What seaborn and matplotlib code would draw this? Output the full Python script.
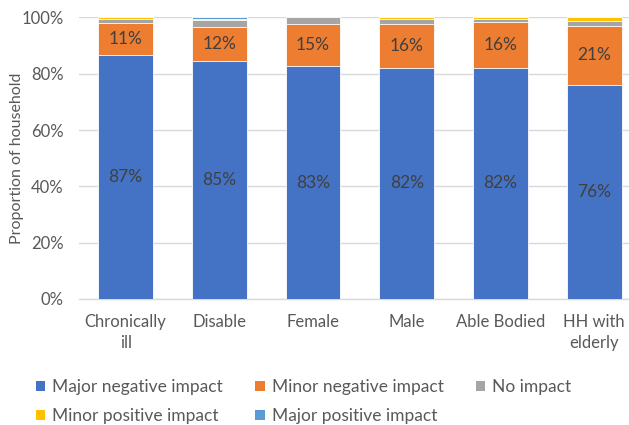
import matplotlib
matplotlib.use("Agg")
import matplotlib.pyplot as plt
import seaborn as sns
import pandas as pd
import numpy as np
from matplotlib.patches import Patch

categories = ["Chronically\nill", "Disable", "Female", "Male", "Able Bodied", "HH with\nelderly"]
major_negative = [86.6, 84.6, 82.6, 82.1, 82.2, 76.1]
minor_negative = [11.4, 12.1, 15.2, 15.6, 16.0, 20.9]
no_impact = [1.3, 2.2, 2.2, 1.7, 1.3, 1.8]
minor_positive = [0.7, 0.5, 0.0, 0.6, 0.5, 1.2]
major_positive = [0.0, 0.6, 0.0, 0.0, 0.0, 0.0]

series_names = ["Major negative impact", "Minor negative impact", "No impact",
                "Minor positive impact", "Major positive impact"]
series_values = [major_negative, minor_negative, no_impact, minor_positive, major_positive]
colors = ["#4472C4", "#ED7D31", "#A5A5A5", "#FFC000", "#5B9BD5"]

sns.set_theme(style="white")
plt.rcParams["font.family"] = ["Lato", "DejaVu Sans"]
text_color = "#595959"

fig = plt.figure(figsize=(6.29, 4.25), dpi=100)
ax = fig.add_axes([0.1253, 0.2965, 0.8938, 0.6626])

data = np.array(series_values)
cum = np.cumsum(data, axis=0)

# draw cumulative totals, tallest first so lower segments overlay
for i in range(len(series_names) - 1, -1, -1):
    df = pd.DataFrame({"cat": categories, "val": cum[i]})
    sns.barplot(data=df, x="cat", y="val", color=colors[i], width=0.584,
                saturation=1, edgecolor="white", linewidth=0.6, ax=ax, zorder=3)

# data labels for the two main series
for j in range(len(categories)):
    ax.text(j, major_negative[j] / 2, f"{major_negative[j]:.0f}%", ha="center", va="center",
            fontsize=12.5, color="#404040", zorder=5)
    ax.text(j, major_negative[j] + minor_negative[j] / 2, f"{minor_negative[j]:.0f}%",
            ha="center", va="center", fontsize=12.5, color="#404040", zorder=5)

ax.set_xlim(-0.5, 5.5)
ax.set_ylim(0, 100)
ax.set_yticks(range(0, 101, 20))
ax.set_yticklabels([f"{v}%" for v in range(0, 101, 20)])
ax.yaxis.grid(True, color="#D9D9D9", linewidth=1, zorder=0)
ax.set_axisbelow(True)
for s in ["top", "right", "left"]:
    ax.spines[s].set_visible(False)
ax.spines["bottom"].set_color("#D9D9D9")
ax.spines["bottom"].set_linewidth(1)
ax.tick_params(axis="both", length=0, labelsize=12, colors=text_color)
ax.tick_params(axis="y", pad=11)
ax.tick_params(axis="x", pad=11)
for lbl in ax.get_xticklabels():
    lbl.set_linespacing(1.35)
ax.set_xlabel("")
ax.set_ylabel("Proportion of household", fontsize=11.5, color=text_color)
ax.yaxis.set_label_coords(-0.098, 0.5)

# legend in row-major order (matplotlib fills columns first)
order = [0, 3, 1, 4, 2]
handles = [Patch(facecolor=colors[k], edgecolor="none") for k in order]
labels = [series_names[k] for k in order]
fig.legend(handles, labels, ncol=3, loc="upper left", bbox_to_anchor=(0.032, 0.145),
           frameon=False, fontsize=12.5, labelcolor=text_color, handlelength=0.55,
           handleheight=0.55, handletextpad=0.4, columnspacing=1.85, labelspacing=0.75)

fig.savefig("out.png", dpi=100)
